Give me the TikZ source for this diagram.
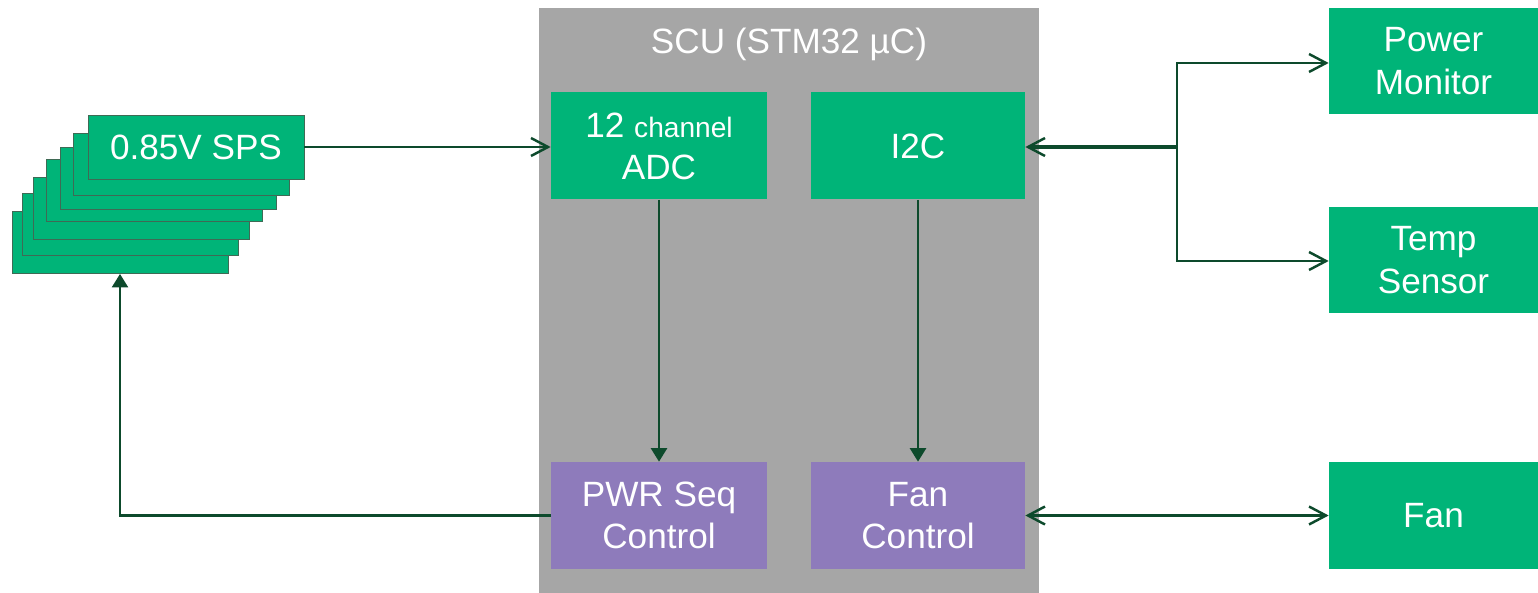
\documentclass[tikz,border=0pt]{standalone}
\usepackage{fontspec}
\setmainfont{Liberation Sans}
\usetikzlibrary{arrows.meta}

\definecolor{blkgreen}{HTML}{00B478}
\definecolor{blkpurple}{HTML}{8E7BBB}
\definecolor{scugray}{HTML}{A6A6A6}
\definecolor{wiregreen}{HTML}{0D4A2C}
\definecolor{edgegreen}{HTML}{3F6A55}

\tikzset{
    blk/.style={fill=blkgreen, text=white, align=center, inner sep=0pt,
        minimum width=43.2mm, minimum height=21.4mm,
        font=\fontsize{20}{24}\selectfont},
    ctl/.style={blk, fill=blkpurple},
    spsbox/.style={blk, draw=edgegreen, line width=0.5pt, minimum height=12.4mm},
    wire/.style={draw=wiregreen, line width=1.4pt},
    barb/.style={wire, -{Straight Barb[length=3.4mm, width=3.6mm, line width=1.4pt]}},
    dbarb/.style={wire, {Straight Barb[length=3.4mm, width=3.6mm, line width=1.4pt]}-{Straight Barb[length=3.4mm, width=3.6mm, line width=1.4pt]}},
    tri/.style={wire, -{Triangle[length=2.7mm, width=3.2mm]}},
}

\begin{document}
\begin{tikzpicture}[x=0.2mm, y=-0.2mm]
    \useasboundingbox (0,0) rectangle (1538,593);

    \node[fill=scugray, minimum width=100mm, minimum height=117mm, inner sep=0pt] (scu) at (789,300.5) {};
    \node[text=white, font=\fontsize{20}{24}\selectfont] (scutitle) at (789,44) {SCU (STM32 µC)};

    \node[blk] (adc) at (659,146) {12 {\fontsize{16}{24}\selectfont channel}\\ADC};
    \node[blk, minimum width=42.8mm] (i2c) at (918,146) {I2C};
    \node[ctl] (pwr) at (659,515.5) {PWR Seq\\Control};
    \node[ctl, minimum width=42.8mm] (fanctl) at (918,515.5) {Fan\\Control};

    \node[blk, minimum width=41.8mm, minimum height=21.2mm] (pmon) at (1433.5,61) {Power\\Monitor};
    \node[blk, minimum width=41.8mm, minimum height=21.2mm] (temp) at (1433.5,260) {Temp\\Sensor};
    \node[blk, minimum width=41.8mm, minimum height=21.4mm] (fan) at (1433.5,515.5) {Fan};

    % stacked SPS cards, back to front
    \foreach \x/\y [count=\k from 1] in {120/242.5, 130/224.5, 141/208.5, 154/190.5, 168/178.5, 181/164.5}
        \node[spsbox] (sps\k) at (\x,\y) {};
    \node[spsbox, minimum height=12.8mm] (sps0) at (196,147) {0.85V SPS};

    \draw[barb] (sps0.east) -- (sps0.east -| adc.west);
    \draw[tri] (adc.south) -- (pwr.north);
    \draw[tri] (i2c.south) -- (fanctl.north);
    \draw[tri] (pwr.west) -| (sps1.south);

    \coordinate (bus) at (1177,147);
    \draw[barb, line width=2.2pt] (bus) -- (bus -| i2c.east);
    \draw[barb] (bus) |- (pmon.west |- 0,63);
    \draw[barb] (bus) |- (temp.west |- 0,261);
    \draw[dbarb] (fanctl.east) -- (fan.west);
\end{tikzpicture}
\end{document}
